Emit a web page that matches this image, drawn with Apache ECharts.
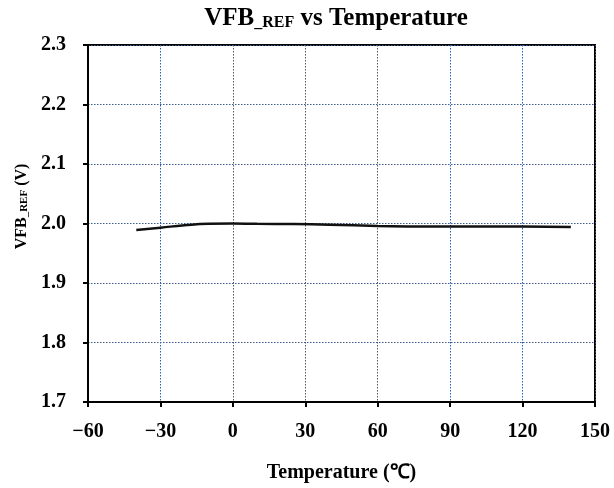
<!DOCTYPE html>
<html><head><meta charset="utf-8">
<script src="https://cdn.jsdelivr.net/npm/echarts@6/dist/echarts.min.js"></script>
<style>html,body{margin:0;padding:0;background:#fff}#c{width:614px;height:488px}</style>
</head><body><div id="c"></div>
<script>
const temps = [-40, -30, -20, -10, 0, 10, 25, 40, 60, 80, 100, 120, 140];
const vfbRef = [1.989, 1.993, 1.997, 1.9995, 2.0, 1.9995, 1.999, 1.998, 1.996, 1.995, 1.995, 1.995, 1.994];
const xTicks = { min: -60, max: 150, interval: 30 };
const yTicks = { min: 1.7, max: 2.3, interval: 0.1 };

const font = 'Liberation Serif';
const chart = echarts.init(document.getElementById('c'));
chart.setOption({
  animation: false,
  backgroundColor: '#fff',
  title: {
    text: '{a|VFB}{s|_REF}{a| vs Temperature}',
    left: 331, top: 0, textAlign: 'center',
    textStyle: {
      rich: {
        a: { fontFamily: font, fontWeight: 'bold', fontSize: 25, color: '#000', verticalAlign: 'bottom', lineHeight: 26 },
        s: { fontFamily: font, fontWeight: 'bold', fontSize: 16, color: '#000', verticalAlign: 'bottom', padding: [8, 0, 0, 0], lineHeight: 26 }
      }
    }
  },
  grid: { left: 88, right: 19, top: 45, bottom: 85, show: true, borderColor: '#000', borderWidth: 2, containLabel: false },
  xAxis: {
    type: 'value', min: xTicks.min, max: xTicks.max, interval: xTicks.interval,
    name: 'Temperature (℃)', nameLocation: 'middle', nameGap: 61, nameMoveOverlap: false,
    nameTextStyle: { fontFamily: font, fontWeight: 'bold', fontSize: 20, color: '#000', verticalAlign: 'top' },
    axisLine: { onZero: false, lineStyle: { color: '#000', width: 2 } },
    axisTick: { show: true, inside: false, length: 5, lineStyle: { color: '#000', width: 2 } },
    axisLabel: { fontFamily: font, fontWeight: 'bold', fontSize: 20, color: '#000', margin: 20,
      formatter: v => v < 0 ? '\u2212' + Math.abs(v) : String(v) },
    splitLine: { show: true, lineStyle: { color: '#3c5a8c', type: [1.5, 1.5], width: 1 } }
  },
  yAxis: {
    type: 'value', min: yTicks.min, max: yTicks.max, interval: yTicks.interval,
    name: '{a|VFB}{s|_REF}{a| (V)}', nameLocation: 'middle', nameGap: 58, nameRotate: 90, nameMoveOverlap: false,
    nameTextStyle: {
      padding: [0, 0, 0, 34],
      rich: {
        a: { fontFamily: font, fontWeight: 'bold', fontSize: 16, color: '#000', verticalAlign: 'bottom', lineHeight: 20 },
        s: { fontFamily: font, fontWeight: 'bold', fontSize: 11, color: '#000', verticalAlign: 'bottom', padding: [5, 0, 0, 0], lineHeight: 20 }
      }
    },
    axisLine: { show: true, onZero: false, lineStyle: { color: '#000', width: 2 } },
    axisTick: { show: true, inside: false, length: 5, lineStyle: { color: '#000', width: 2 } },
    axisLabel: { fontFamily: font, fontWeight: 'bold', fontSize: 20, color: '#000', margin: 22,
      formatter: v => v.toFixed(1) },
    splitLine: { show: true, lineStyle: { color: '#3c5a8c', type: [1.5, 1.5], width: 1 } }
  },
  series: [{
    type: 'line', data: temps.map((t, i) => [t, vfbRef[i]]),
    smooth: true, showSymbol: false, lineStyle: { color: '#111', width: 2.5 }
  }]
});
</script></body></html>
